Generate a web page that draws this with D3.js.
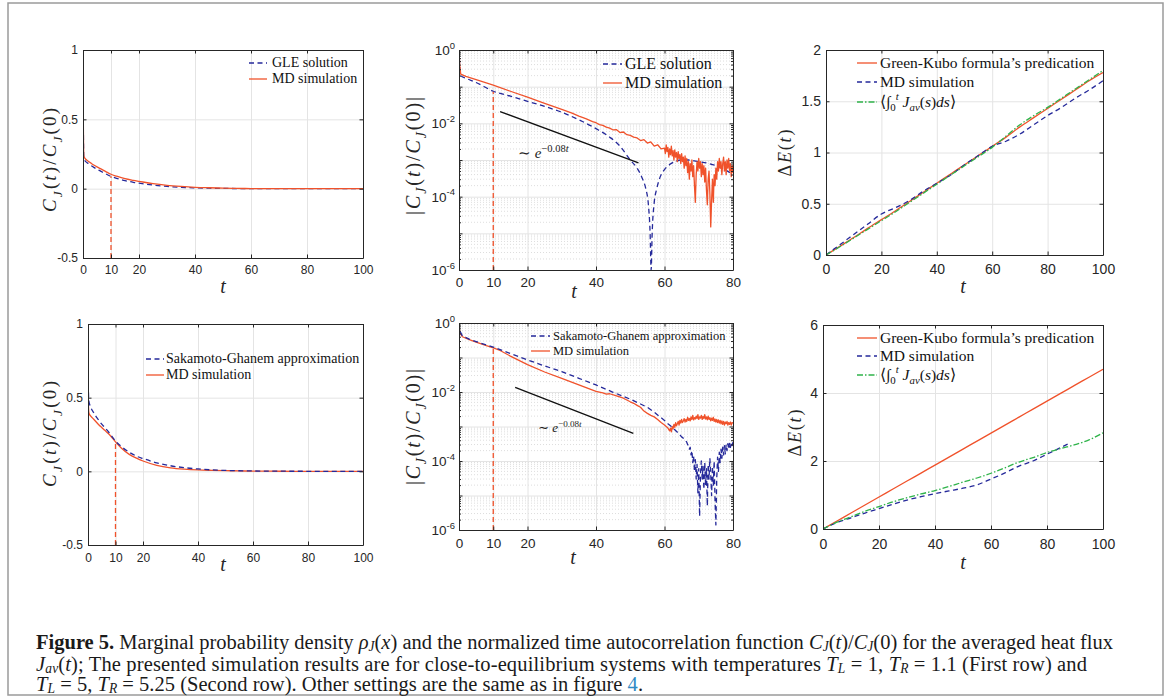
<!DOCTYPE html>
<html>
<head>
<meta charset="utf-8">
<script src="https://cdn.jsdelivr.net/npm/d3@7"></script>
<style>
  body { margin: 0; background: #fff; }
</style>
</head>
<body>
<svg id="fig" width="1171" height="697"></svg>
<script>
// ---------- data ----------
// row 1, left: C_J(t)/C_J(0), linear
const t1   = [0, 0.1, 0.3, 0.6, 1, 2, 3, 4, 5, 6, 8, 10, 12, 15, 18, 20, 25, 30, 35, 40, 45, 50, 55, 60, 70, 80, 90, 100];
const gle1 = [1, 0.5, 0.22, 0.205, 0.195, 0.18, 0.165, 0.152, 0.14, 0.13, 0.108, 0.088, 0.075, 0.058, 0.046, 0.04, 0.026, 0.016, 0.01, 0.006, 0.0035, 0.002, 0.001, 0.0005, 0.0001, 0, 0, 0];
const md1  = [1, 0.55, 0.235, 0.222, 0.212, 0.196, 0.182, 0.169, 0.157, 0.146, 0.125, 0.104, 0.09, 0.072, 0.06, 0.053, 0.036, 0.024, 0.016, 0.01, 0.0065, 0.004, 0.002, 0.001, 0.0003, 0, 0, 0];

// row 1, middle: |C_J(t)/C_J(0)|, log
const gle2T = [0, 0.2, 0.5, 2, 5, 10, 15, 20, 25, 30, 35, 40, 44, 47, 50, 52, 53.5, 54.5, 55.3, 55.8, 56.1, 56.4, 57, 57.7, 58.5, 60, 61.5, 63, 65, 67, 70, 73, 76, 78, 80];
const gle2V = [1, 0.4, 0.2, 0.17, 0.13, 0.075, 0.055, 0.04, 0.029, 0.02, 0.0125, 0.0072, 0.0042, 0.0024, 0.001, 0.0006, 0.00032, 0.00017, 0.00006, 0.00001, 0.000001, 0.00001, 0.00007, 0.00016, 0.0003, 0.00055, 0.00075, 0.0009, 0.001, 0.001, 0.0009, 0.0008, 0.00065, 0.00052, 0.0004];
const md2T = [0, 0.2, 0.5, 2, 5, 10, 15, 20, 25, 30, 33, 35, 37, 39, 40, 41, 42, 43, 44, 45, 46, 47, 48, 49, 50, 51, 52, 53, 54, 55, 56, 57, 58, 59];
const md2V = [1, 0.4, 0.22, 0.19, 0.155, 0.11, 0.075, 0.052, 0.035, 0.024, 0.019, 0.0158, 0.0135, 0.0112, 0.0104, 0.0092, 0.0088, 0.0079, 0.0074, 0.0066, 0.0067, 0.0056, 0.0058, 0.0049, 0.0047, 0.0042, 0.004, 0.0034, 0.0036, 0.0029, 0.0031, 0.0024, 0.0026, 0.002];
// noisy tail of the MD curve, t = 60..80 every 0.25, in units of 1e-3
const md2Tail = [2.1, 1.5, 2.6, 1.7, 2.2, 1.2, 2.0, 1.4, 2.4, 1.3, 1.8, 1.0, 1.9, 1.2, 1.6, 0.9, 1.7, 1.1, 1.4, 0.8,
  1.5, 0.9, 1.2, 0.6, 1.3, 0.7, 1.1, 0.45, 0.9, 0.3, 0.8, 0.5, 1.0, 0.35, 0.7, 0.2, 0.07, 0.4, 0.9, 0.5,
  1.1, 0.6, 0.9, 0.35, 0.8, 0.4, 0.7, 0.25, 0.6, 0.15, 0.06, 0.3, 0.5, 0.12, 0.015, 0.08, 0.3, 0.07, 0.4, 0.2,
  0.6, 0.3, 0.9, 0.5, 1.1, 0.6, 0.9, 0.4, 0.8, 1.2, 0.5, 0.9, 0.4, 1.0, 0.6, 1.1, 0.5, 0.8, 0.35, 0.7, 0.45];
const ref2T = [12, 52.4];
const ref2V = [0.021, 0.00083];

// row 1, right: Delta E(t)
const t3    = [0, 5, 10, 15, 20, 25, 30, 35, 40, 45, 50, 55, 60, 65, 70, 75, 80, 85, 90, 95, 100];
const gk3   = [0, 0.085, 0.17, 0.26, 0.345, 0.43, 0.52, 0.61, 0.7, 0.79, 0.88, 0.97, 1.06, 1.15, 1.25, 1.34, 1.43, 1.52, 1.61, 1.7, 1.78];
const md3   = [0, 0.1, 0.2, 0.3, 0.4, 0.46, 0.53, 0.62, 0.7, 0.78, 0.88, 0.97, 1.06, 1.11, 1.18, 1.27, 1.36, 1.44, 1.53, 1.61, 1.7];
const int3  = [0, 0.08, 0.165, 0.25, 0.335, 0.42, 0.51, 0.6, 0.69, 0.78, 0.87, 0.96, 1.05, 1.16, 1.27, 1.36, 1.44, 1.53, 1.62, 1.71, 1.8];

// row 2, left
const t4  = [0, 0.1, 0.3, 0.6, 1, 2, 3, 4, 5, 6, 8, 10, 12, 15, 18, 20, 25, 30, 35, 40, 45, 50, 55, 60, 70, 80, 90, 100];
const sg4 = [1, 0.6, 0.48, 0.455, 0.435, 0.4, 0.37, 0.345, 0.32, 0.3, 0.255, 0.205, 0.17, 0.13, 0.1, 0.087, 0.058, 0.038, 0.025, 0.016, 0.01, 0.006, 0.004, 0.0025, 0.001, 0.0003, 0, 0];
const md4 = [1, 0.5, 0.4, 0.385, 0.375, 0.355, 0.335, 0.315, 0.298, 0.28, 0.245, 0.2, 0.16, 0.115, 0.086, 0.07, 0.041, 0.024, 0.015, 0.0098, 0.007, 0.005, 0.003, 0.0015, 0.0005, 0.0002, 0, 0];

// row 2, middle (log)
const sg5T = [0, 0.2, 1, 3, 5, 8, 10, 12, 15, 20, 25, 30, 35, 40, 45, 50, 53, 55, 57, 59, 60, 61, 62, 63, 64, 65];
const sg5V = [1, 0.6, 0.42, 0.34, 0.29, 0.23, 0.2, 0.17, 0.13, 0.085, 0.057, 0.039, 0.025, 0.016, 0.0098, 0.0062, 0.0045, 0.0036, 0.0026, 0.0018, 0.0015, 0.0012, 0.001, 0.0008, 0.00065, 0.0005];
// noisy tail, t = 66..80 every 0.25, in units of 1e-4
const sg5Tail = [4.2, 3.8, 3.5, 3.0, 2.8, 2.2, 2.5, 1.5, 2.0, 0.9, 1.4, 0.5, 1.1, 0.3, 0.8, 0.12, 0.6, 0.025, 0.4, 1.0,
  0.3, 0.7, 0.15, 0.9, 0.2, 0.6, 0.05, 0.8, 0.3, 1.2, 0.4, 0.1, 0.7, 0.2, 1.0, 0.08, 0.014, 0.3, 1.3, 0.5,
  1.8, 0.9, 2.2, 1.2, 2.5, 1.5, 2.8, 1.6, 3.0, 2.0, 3.2, 2.2, 3.4, 2.5, 3.5, 2.8, 3.6];
const md5T = [0, 0.2, 1, 3, 5, 8, 10, 12, 15, 20, 25, 30, 35, 40, 42, 43, 44, 46, 48, 50, 51, 52, 53, 54, 55, 56, 57, 58, 59, 60, 61];
const md5V = [1, 0.52, 0.4, 0.33, 0.28, 0.22, 0.19, 0.16, 0.11, 0.062, 0.038, 0.025, 0.016, 0.0105, 0.0094, 0.0087, 0.0089, 0.0077, 0.0066, 0.0052, 0.0047, 0.0041, 0.0036, 0.0028, 0.0024, 0.0021, 0.0019, 0.0016, 0.0013, 0.0011, 0.0009];
// noisy tail, t = 61.5..80 every 0.25, in units of 1e-3
const md5Tail = [0.75, 0.9, 0.7, 1.0, 0.85, 1.15, 0.95, 1.3, 1.05, 1.2,
  1.4, 1.1, 1.5, 1.25, 1.6, 1.3, 1.45, 1.7, 1.35, 1.6,
  1.4, 1.85, 1.5, 1.7, 1.45, 1.9, 1.6, 2.1, 1.55, 1.8,
  1.65, 2.0, 1.7, 2.2, 1.6, 1.9, 1.75, 2.1, 1.6, 1.95,
  1.7, 2.2, 1.65, 1.9, 1.55, 2.0, 1.6, 1.8, 1.45, 1.75,
  1.5, 1.85, 1.4, 1.65, 1.35, 1.6, 1.3, 1.55, 1.25, 1.5,
  1.2, 1.45, 1.15, 1.4, 1.1, 1.35, 1.2, 1.4, 1.1, 1.3,
  1.15, 1.35, 1.1, 1.3, 1.25];
const ref5T = [16.4, 50.9];
const ref5V = [0.0137, 0.00063];

// row 2, right
const t6   = [0, 5, 10, 15, 20, 25, 30, 35, 40, 45, 50, 55, 60, 65, 70, 75, 80, 85, 90, 95, 100];
const gk6  = [0, 0.235, 0.47, 0.705, 0.94, 1.175, 1.41, 1.645, 1.88, 2.115, 2.35, 2.585, 2.82, 3.055, 3.29, 3.525, 3.76, 3.995, 4.23, 4.465, 4.7];
const int6 = [0, 0.2, 0.36, 0.52, 0.66, 0.8, 0.92, 1.03, 1.13, 1.25, 1.38, 1.5, 1.64, 1.8, 1.97, 2.1, 2.25, 2.37, 2.48, 2.62, 2.83];
const md6T = [0, 5, 10, 15, 20, 25, 30, 35, 40, 45, 50, 55, 60, 65, 70, 75, 80, 85, 88];
const md6V = [0, 0.19, 0.33, 0.47, 0.6, 0.73, 0.85, 0.95, 1.04, 1.12, 1.2, 1.3, 1.47, 1.65, 1.85, 2.0, 2.2, 2.4, 2.52];

// dashed marker at t = 10, and where it stops in each panel
const cutT = 10;
const cutTop = [0.09, 0.073, 0.2, 0.2];

// ticks
const xTicks100 = [0, 10, 20, 40, 60, 80, 100];
const xTicks80 = [0, 10, 20, 40, 60, 80];
const xTicksE = [0, 20, 40, 60, 80, 100];
const yTicksC = [-0.5, 0, 0.5, 1];
const yTicksE1 = [0, 0.5, 1, 1.5, 2];
const yTicksE2 = [0, 2, 4, 6];
const logLabels = [0, -2, -4, -6];

// legend labels
const legGLE = "GLE solution";
const legMD = "MD simulation";
const legSG = "Sakamoto-Ghanem approximation";
const legGK = "Green-Kubo formula\u2019s predication";

// ---------- drawing ----------
const RED = "#f0522b", BLUE = "#25299a", GREEN = "#2fb34a";
const GRID = "#e4e4e4", AXIS = "#262626";
const SANS = "'Liberation Sans', Arial, Helvetica, sans-serif";
const SERIF = "'Liberation Serif', 'Times New Roman', serif";
const svg = d3.select("#fig");

// frame
svg.append("rect").attr("x", 8).attr("y", 3).attr("width", 1155).attr("height", 692)
  .attr("fill", "none").attr("stroke", "#9a9a9a").attr("stroke-width", 1.5);

// rich text: parts are [text, "i sub ..."]
function rich(text, parts, fs, subShift, subSize) {
  let shift = 0;
  const sb = subShift || 0.3, ss = subSize || 0.7;
  parts.forEach(([s, kind]) => {
    const k = (kind || "").split(" ");
    let target = 0, size = fs;
    if (k.includes("sub")) { target = sb * fs; size = ss * fs; }
    if (k.includes("sup")) { target = -0.42 * fs; size = 0.7 * fs; }
    const ts = text.append("tspan").text(s)
      .attr("dy", target - shift).attr("font-size", size);
    shift = target;
    if (k.includes("i")) ts.attr("font-style", "italic");
    if (k.includes("b")) ts.attr("font-weight", "bold");
    if (k.includes("blue")) ts.attr("fill", "#2f8ac4");
  });
}

let clipN = 0;
function makePanel(p) {
  const x = d3.scaleLinear().domain(p.xd).range([p.l, p.r]);
  const y = (p.log ? d3.scaleLog() : d3.scaleLinear()).domain(p.yd).range([p.b, p.t]);
  const w = p.r - p.l, h = p.b - p.t;
  const g = svg.append("g");

  if (p.log) {
    const minor = [];
    for (let k = -6; k < 0; k++) for (let m = 2; m <= 9; m++) minor.push(m * Math.pow(10, k));
    g.selectAll(".mg").data(minor).join("line")
      .attr("x1", p.l).attr("x2", p.r).attr("y1", y).attr("y2", y)
      .attr("stroke", "#cfcfcf").attr("stroke-width", 0.7).attr("stroke-dasharray", "1,2");
  }
  const yGrid = p.log ? [1e-6, 1e-5, 1e-4, 1e-3, 1e-2, 1e-1, 1] : p.yt;
  g.append("g").attr("transform", `translate(0,${p.b})`)
    .call(d3.axisBottom(x).tickValues(p.xt).tickSize(-h).tickFormat(""))
    .call(s => s.select(".domain").remove())
    .selectAll("line").attr("stroke", GRID);
  g.append("g").attr("transform", `translate(${p.l},0)`)
    .call(d3.axisLeft(y).tickValues(yGrid).tickSize(-w).tickFormat(""))
    .call(s => s.select(".domain").remove())
    .selectAll("line").attr("stroke", GRID);

  const id = "clip" + (clipN++);
  g.append("clipPath").attr("id", id).append("rect")
    .attr("x", p.l).attr("y", p.t - 1).attr("width", w).attr("height", h + 2);
  const plot = g.append("g").attr("clip-path", `url(#${id})`);
  return { g, plot, x, y, p };
}

function curve(P, ts, vs, color, dash, interp) {
  const pts = ts.map((t, i) => [t, vs[i]]);
  const line = d3.line().x(d => P.x(d[0])).y(d => P.y(d[1]))
    .curve(interp || d3.curveMonotoneX);
  P.plot.append("path").attr("d", line(pts)).attr("fill", "none")
    .attr("stroke", color).attr("stroke-width", 1.3)
    .attr("stroke-dasharray", dash || null).attr("stroke-linejoin", "round");
}

function tail(t0, step, vals, unit) {
  return { t: vals.map((v, i) => t0 + i * step), v: vals.map(v => v * unit) };
}

function cutLine(P, top) {
  P.plot.append("line").attr("x1", P.x(cutT)).attr("x2", P.x(cutT))
    .attr("y1", P.p.b).attr("y2", P.y(top))
    .attr("stroke", RED).attr("stroke-width", 1.3).attr("stroke-dasharray", "5,3");
}

function axes(P) {
  const { g, x, y, p } = P;
  const tk = 3.5;
  const style = s => {
    s.attr("font-family", SANS).attr("font-size", p.fs);
    s.select(".domain").attr("stroke", AXIS);
    s.selectAll("line").attr("stroke", AXIS);
    s.selectAll("text").attr("fill", AXIS);
  };
  g.append("g").attr("transform", `translate(0,${p.b})`)
    .call(d3.axisBottom(x).tickValues(p.xt).tickSize(-tk).tickSizeOuter(0).tickPadding(p.xpad).tickFormat(d => String(d)))
    .call(style);
  g.append("g").attr("transform", `translate(0,${p.t})`)
    .call(d3.axisTop(x).tickValues(p.xt).tickSize(-tk).tickSizeOuter(0).tickFormat(""))
    .call(style);
  if (!p.log) {
    g.append("g").attr("transform", `translate(${p.l},0)`)
      .call(d3.axisLeft(y).tickValues(p.yt).tickSize(-tk).tickSizeOuter(0).tickPadding(5).tickFormat(d => String(d)))
      .call(style);
    g.append("g").attr("transform", `translate(${p.r},0)`)
      .call(d3.axisRight(y).tickValues(p.yt).tickSize(-tk).tickSizeOuter(0).tickFormat(""))
      .call(style);
  } else {
    const dec = [1e-6, 1e-5, 1e-4, 1e-3, 1e-2, 1e-1, 1];
    const minor = [];
    for (let k = -6; k < 0; k++) for (let m = 2; m <= 9; m++) minor.push(m * Math.pow(10, k));
    [[d3.axisLeft, p.l], [d3.axisRight, p.r]].forEach(([ax, px]) => {
      g.append("g").attr("transform", `translate(${px},0)`)
        .call(ax(y).tickValues(dec).tickSize(-tk).tickSizeOuter(0).tickFormat(""))
        .call(style);
      g.append("g").attr("transform", `translate(${px},0)`)
        .call(ax(y).tickValues(minor).tickSize(-2).tickSizeOuter(0).tickFormat(""))
        .call(style).call(s => s.select(".domain").remove());
    });
    logLabels.forEach(e => {
      const t = g.append("text").attr("x", p.l - 4).attr("y", y(Math.pow(10, e)) + p.fs * 0.36)
        .attr("text-anchor", "end").attr("font-family", SANS).attr("font-size", p.fs).attr("fill", AXIS);
      t.append("tspan").text("10");
      t.append("tspan").text(String(e)).attr("font-size", p.fs * 0.7).attr("dy", -p.fs * 0.45);
    });
  }
}

function legend(P, o, items) {
  items.forEach(it => {
    P.g.append("line").attr("x1", o.x0).attr("x2", o.x1).attr("y1", it.y).attr("y2", it.y)
      .attr("stroke", it.c).attr("stroke-width", 1.3).attr("stroke-dasharray", it.dash || null);
    const t = P.g.append("text").attr("x", o.tx).attr("y", it.y + o.fs * 0.32)
      .attr("font-family", SERIF).attr("font-size", o.fs).attr("fill", "#111");
    rich(t, it.parts, o.fs, 0.25);
  });
}

// rotated axis label, stretched to the length it has in the figure
function ylab(cx, cy, parts, fs, len) {
  const t = svg.append("text").attr("transform", `translate(${cx + 0.33 * fs},${cy}) rotate(-90)`)
    .attr("text-anchor", "middle").attr("font-family", SERIF).attr("font-size", fs).attr("fill", AXIS);
  rich(t, parts, fs);
  t.attr("textLength", len).attr("lengthAdjust", "spacing");
}
function xlab(cx, by, fs) {
  svg.append("text").attr("x", cx).attr("y", by).attr("text-anchor", "middle")
    .attr("font-family", SERIF).attr("font-style", "italic").attr("font-size", fs).attr("fill", AXIS).text("t");
}
function note(P, x, yb, fs) {
  const t = P.g.append("text").attr("x", x).attr("y", yb).attr("font-family", SERIF).attr("font-size", fs).attr("fill", "#222");
  rich(t, [["\u223C ", ""], ["e", "i"], ["\u22120.08", "sup"], ["t", "i sup"]], fs);
}

const DASH = "5,3.5", DASHDOT = "6,2,1.5,2";
const cParts = [["C", "i"], ["J", "i sub"], ["(", ""], ["t", "i"], [")/", ""], ["C", "i"], ["J", "i sub"], ["(0)", ""]];
const absParts = [["|", ""], ...cParts, ["|", ""]];
const dEParts = [["\u0394", ""], ["E", "i"], ["(", ""], ["t", "i"], [")", ""]];
const intParts = [["\u27E8\u222B", ""], ["0", "sub"], ["t", "i sup"], [" J", "i"], ["av", "i sub"], ["(", ""], ["s", "i"], [")", ""], ["ds", "i"], ["\u27E9", ""]];

// ---- panel 1 ----
const P1 = makePanel({ l: 83, t: 50, r: 363, b: 258, xd: [0, 100], yd: [-0.5, 1], xt: xTicks100, yt: yTicksC, fs: 12, xpad: 7 });
curve(P1, t1, gle1, BLUE, DASH);
curve(P1, t1, md1, RED);
cutLine(P1, cutTop[0]);
axes(P1);
legend(P1, { x0: 249, x1: 267, tx: 272, fs: 14 }, [
  { y: 63, c: BLUE, dash: DASH, parts: [[legGLE, ""]] },
  { y: 79, c: RED, parts: [[legMD, ""]] }]);
ylab(50, 160, cParts, 19, 104);
xlab(223, 293, 20);

// ---- panel 2 ----
const P2 = makePanel({ l: 459, t: 50, r: 733, b: 270, xd: [0, 80], yd: [1e-6, 1], log: true, xt: xTicks80, fs: 13.5, xpad: 7 });
curve(P2, gle2T, gle2V, BLUE, DASH);
const md2 = tail(60, 0.25, md2Tail, 1e-3);
curve(P2, md2T.concat(md2.t), md2V.concat(md2.v), RED, null, d3.curveLinear);
curve(P2, ref2T, ref2V, "#111", null, d3.curveLinear);
cutLine(P2, cutTop[1]);
axes(P2);
legend(P2, { x0: 603, x1: 622, tx: 625, fs: 16 }, [
  { y: 64, c: BLUE, dash: DASH, parts: [[legGLE, ""]] },
  { y: 83, c: RED, parts: [[legMD, ""]] }]);
note(P2, 518, 158, 15);
ylab(413, 156, absParts, 20, 118);
xlab(574, 298, 20);

// ---- panel 3 ----
const P3 = makePanel({ l: 826, t: 50, r: 1103, b: 255, xd: [0, 100], yd: [0, 2], xt: xTicksE, yt: yTicksE1, fs: 14, xpad: 9 });
curve(P3, t3, gk3, RED);
curve(P3, t3, md3, BLUE, DASH);
curve(P3, t3, int3, GREEN, DASHDOT);
axes(P3);
legend(P3, { x0: 857, x1: 877, tx: 880, fs: 15.5 }, [
  { y: 63, c: RED, parts: [[legGK, ""]] },
  { y: 82, c: BLUE, dash: DASH, parts: [[legMD, ""]] },
  { y: 102, c: GREEN, dash: DASHDOT, parts: intParts }]);
ylab(785, 153, dEParts, 18, 47);
xlab(963, 293, 20);

// ---- panel 4 ----
const P4 = makePanel({ l: 88, t: 324, r: 363, b: 545, xd: [0, 100], yd: [-0.5, 1], xt: xTicks100, yt: yTicksC, fs: 12, xpad: 8 });
curve(P4, t4, md4, RED);
curve(P4, t4, sg4, BLUE, DASH);
cutLine(P4, cutTop[2]);
axes(P4);
legend(P4, { x0: 146, x1: 164, tx: 166, fs: 14 }, [
  { y: 359, c: BLUE, dash: DASH, parts: [[legSG, ""]] },
  { y: 375, c: RED, parts: [[legMD, ""]] }]);
ylab(50, 434, cParts, 19, 106);
xlab(223, 571, 20);

// ---- panel 5 ----
const P5 = makePanel({ l: 459, t: 323, r: 733, b: 530, xd: [0, 80], yd: [1e-6, 1], log: true, xt: xTicks80, fs: 13.5, xpad: 8 });
const md5 = tail(61.5, 0.25, md5Tail, 1e-3);
curve(P5, md5T.concat(md5.t), md5V.concat(md5.v), RED, null, d3.curveLinear);
const sg5 = tail(66, 0.25, sg5Tail, 1e-4);
curve(P5, sg5T.concat(sg5.t), sg5V.concat(sg5.v), BLUE, DASH, d3.curveLinear);
curve(P5, ref5T, ref5V, "#111", null, d3.curveLinear);
cutLine(P5, cutTop[3]);
axes(P5);
legend(P5, { x0: 531, x1: 550, tx: 553, fs: 12.5 }, [
  { y: 336, c: BLUE, dash: DASH, parts: [[legSG, ""]] },
  { y: 351, c: RED, parts: [[legMD, ""]] }]);
note(P5, 538, 432, 13);
ylab(413, 427, absParts, 20, 116);
xlab(573, 564, 20);

// ---- panel 6 ----
const P6 = makePanel({ l: 823, t: 325, r: 1103, b: 529, xd: [0, 100], yd: [0, 6], xt: xTicksE, yt: yTicksE2, fs: 14, xpad: 10 });
curve(P6, t6, gk6, RED);
curve(P6, md6T, md6V, BLUE, DASH);
curve(P6, t6, int6, GREEN, DASHDOT);
axes(P6);
legend(P6, { x0: 857, x1: 877, tx: 880, fs: 15.5 }, [
  { y: 338, c: RED, parts: [[legGK, ""]] },
  { y: 356, c: BLUE, dash: DASH, parts: [[legMD, ""]] },
  { y: 375, c: GREEN, dash: DASHDOT, parts: intParts }]);
ylab(795, 433, dEParts, 18, 47);
xlab(963, 569, 20);

// ---------- caption ----------
const capLines = [
  [["Figure 5.", "b"], [" Marginal probability density ", ""], ["\u03C1", "i"], ["J", "i sub"], ["(", ""], ["x", "i"],
   [") and the normalized time autocorrelation function ", ""], ["C", "i"], ["J", "i sub"], ["(", ""], ["t", "i"], [")/", ""],
   ["C", "i"], ["J", "i sub"], ["(0) for the averaged heat flux", ""]],
  [["J", "i"], ["av", "i sub"], ["(", ""], ["t", "i"], ["); The presented simulation results are for close-to-equilibrium systems with temperatures ", ""],
   ["T", "i"], ["L", "i sub"], [" = 1, ", ""], ["T", "i"], ["R", "i sub"], [" = 1.1 (First row) and", ""]],
  [["T", "i"], ["L", "i sub"], [" = 5, ", ""], ["T", "i"], ["R", "i sub"],
   [" = 5.25 (Second row). Other settings are the same as in figure ", ""], ["4", "blue"], [".", ""]]
];
const capWidths = [1077, 1051, 607];
const capBase = [649, 670.5, 691];

// size the caption font from the first line, then fit each line
const probe = svg.append("text").attr("font-family", SERIF).attr("font-size", 18);
rich(probe, capLines[0], 18, 0.1, 0.66);
const capFs = 18 * capWidths[0] / probe.node().getComputedTextLength();
probe.remove();
capLines.forEach((parts, i) => {
  const t = svg.append("text").attr("x", 36).attr("y", capBase[i])
    .attr("font-family", SERIF).attr("font-size", capFs).attr("fill", "#1a1a1a");
  rich(t, parts, capFs, 0.1, 0.66);
  t.attr("textLength", capWidths[i]).attr("lengthAdjust", "spacing");
});
</script>
</body>
</html>
